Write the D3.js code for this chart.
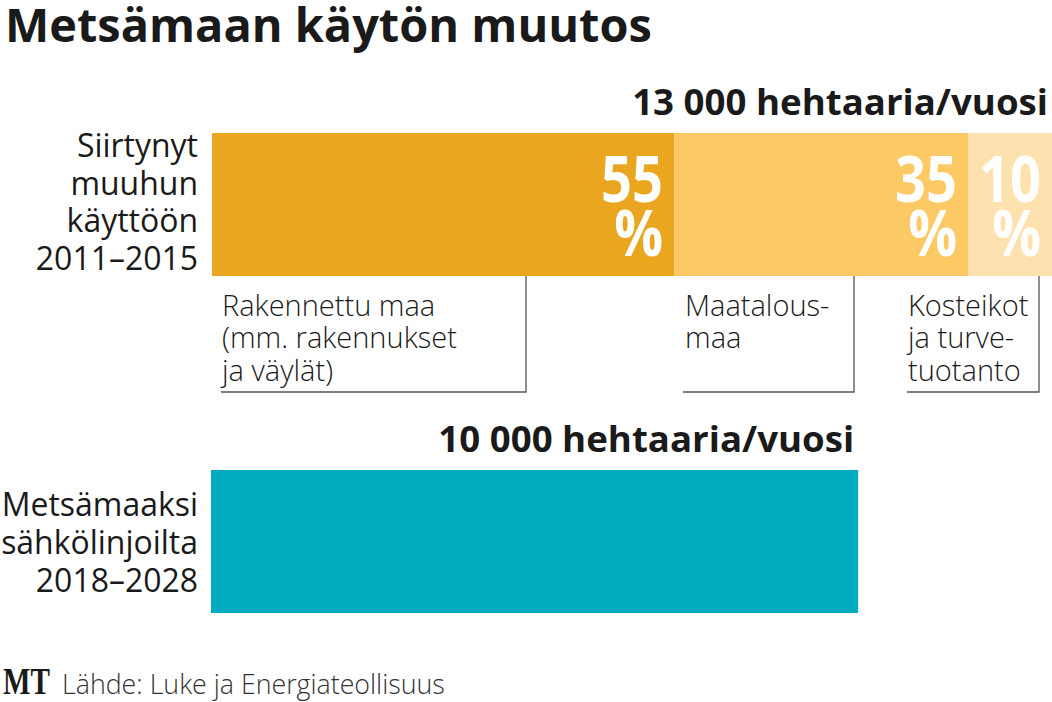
<!DOCTYPE html>
<html><head><meta charset="utf-8">
<script src="https://cdn.jsdelivr.net/npm/d3@7"></script>
<style>html,body{margin:0;padding:0;background:#fff}svg{display:block}</style>
</head><body>
<script>
// ---- data ----
const title = "Metsämaan käytön muutos";
const categories = ["top", "bottom"];
const categoryLabels = [["Siirtynyt", "muuhun", "käyttöön", "2011–2015"], ["Metsämaaksi", "sähkölinjoilta", "2018–2028"]];
const totals = [13000, 10000];
const totalLabels = ["13 000 hehtaaria/vuosi", "10 000 hehtaaria/vuosi"];
const segmentShares = [55, 35, 10];
const segmentNames = [["Rakennettu maa", "(mm. rakennukset", "ja väylät)"], ["Maatalous-", "maa"], ["Kosteikot", "ja turve-", "tuotanto"]];
const source = "Lähde: Luke ja Energiateollisuus";
const brand = "MT";

// ---- style / layout ----
const W = 1052, H = 702;
const segColors = ["#E9A61E", "#FCC964", "#FDE2AF"];
const teal = "#00ABBF";
const sans = "'Open Sans', 'DejaVu Sans', sans-serif";
const catLabelOffset = [9, 12.5];
// annotation bracket layout (left of text, right vertical line, bottom y)
const annoLayout = [{tx: 222, lx: 221, rx: 526}, {tx: 685, lx: 683, rx: 854}, {tx: 908, lx: 907, rx: 1039}];

const svg = d3.select("body").append("svg").attr("width", W).attr("height", H);

const x = d3.scaleLinear().domain([0, 13000]).range([212, 1052]);
const y = d3.scaleBand().domain(categories).range([133, 613]).paddingInner(0.5757).paddingOuter(0);

function squeeze(sel, k, anchorX) {
  sel.attr("transform", `translate(${anchorX},0) scale(${k},1) translate(${-anchorX},0)`);
}
function fitWidth(sel, target, anchorX) {
  const w = sel.node().getComputedTextLength();
  squeeze(sel, target / w, anchorX);
  return target / w;
}
function measure(str, weight, size) {
  const p = svg.append("text").text(str).style("font-family", sans).style("font-weight", weight).style("font-size", size + "px");
  const w = p.node().getComputedTextLength();
  p.remove();
  return w;
}

// title
const t = svg.append("text").attr("x", 5).attr("y", 42).text(title)
  .style("font-family", sans).style("font-weight", 700).style("font-size", "47px").attr("fill", "#1a1a1a");
fitWidth(t, 647, 5);

// top stacked bar
const segs = [];
let acc = 0;
segmentShares.forEach((s, i) => {
  const v = totals[0] * s / 100;
  segs.push({x0: acc, x1: acc + v, share: s, i});
  acc += v;
});
const yTop = y("top"), bh = y.bandwidth();
svg.append("g").selectAll("rect").data(segs).join("rect")
  .attr("x", d => x(d.x0)).attr("y", yTop)
  .attr("width", d => x(d.x1) - x(d.x0)).attr("height", bh)
  .attr("fill", d => segColors[d.i]);

// bottom bar
svg.append("rect").attr("x", x(0) - 1).attr("y", y("bottom"))
  .attr("width", x(totals[1]) - x(0) + 1).attr("height", bh).attr("fill", teal);

// percent labels
segs.forEach(d => {
  const rx = x(d.x1) - 11;
  const a = svg.append("text").attr("x", rx).attr("y", yTop + 69).attr("text-anchor", "end")
    .text(d.share).style("font-family", sans).style("font-weight", 700).style("font-size", "64px").attr("fill", "#fff");
  const k = fitWidth(a, 62, rx);
  const b = svg.append("text").attr("x", rx).attr("y", yTop + 123).attr("text-anchor", "end")
    .text("%").style("font-family", sans).style("font-weight", 700).style("font-size", "64px").attr("fill", "#fff");
  squeeze(b, k, rx);
});

// total labels
let kTot;
categories.forEach((c, i) => {
  const rx = x(totals[i]) - 4;
  const tl = svg.append("text").attr("x", rx).attr("y", y(c) - 18).attr("text-anchor", "end")
    .text(totalLabels[i]).style("font-family", sans).style("font-weight", 700).style("font-size", "36px").attr("fill", "#1a1a1a");
  if (i === 0) kTot = fitWidth(tl, 416, rx); else squeeze(tl, kTot, rx);
});

// category labels
const kCat = Math.min(166 / measure(categoryLabels[0][3], 400, 33), 197 / measure(categoryLabels[1][1], 400, 33));
categories.forEach((c, i) => {
  const lines = categoryLabels[i];
  const cy = y(c) + bh / 2 + catLabelOffset[i];
  const lh = 37.7;
  lines.forEach((ln, j) => {
    const tx = svg.append("text").attr("x", 198).attr("y", cy + (j - (lines.length - 1) / 2) * lh)
      .attr("text-anchor", "end").text(ln)
      .style("font-family", sans).style("font-size", "33px").attr("fill", "#1a1a1a");
    squeeze(tx, kCat, 198);
  });
});

// annotations
const kAnn = 235 / measure(segmentNames[0][1], 300, 29);
const barBottom = yTop + bh;
const annoBottom = 392;
segmentNames.forEach((lines, i) => {
  const L = annoLayout[i];
  lines.forEach((ln, j) => {
    const tx = svg.append("text").attr("x", L.tx).attr("y", barBottom + 40 + j * 32.5).text(ln)
      .style("font-family", sans).style("font-weight", 300).style("font-size", "29px").attr("fill", "#1a1a1a");
    squeeze(tx, kAnn, L.tx);
  });
  svg.append("path").attr("d", `M${L.lx},${annoBottom}H${L.rx}V${barBottom}`)
    .attr("fill", "none").attr("stroke", "#555").attr("stroke-width", 1.3);
});

// source
svg.append("text").attr("x", 3).attr("y", 694).text(brand)
  .style("font-family", "'Liberation Serif', serif").style("font-weight", 700).style("font-size", "38px").attr("fill", "#1a1a1a")
  .call(s => fitWidth(s, 47, 3));
svg.append("text").attr("x", 62).attr("y", 694).text(source)
  .style("font-family", sans).style("font-weight", 300).style("font-size", "28px").attr("fill", "#333")
  .call(s => fitWidth(s, 383, 62));
</script>
</body></html>
